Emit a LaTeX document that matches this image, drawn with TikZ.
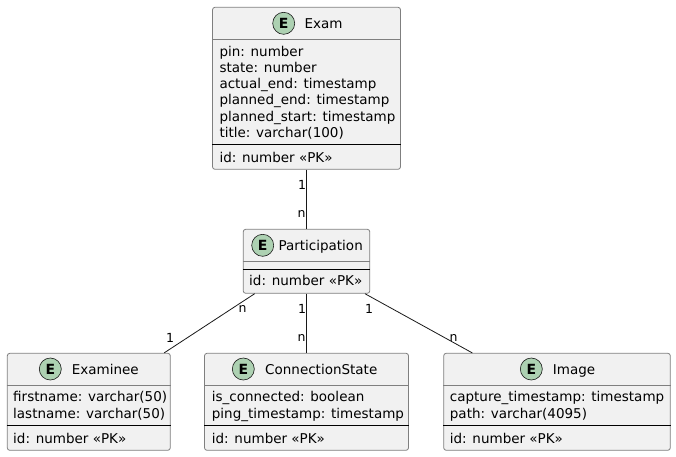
\documentclass[tikz,border=0pt]{standalone}
\usepackage{fontspec}
\setmainfont{DejaVu Sans}
\definecolor{boxfill}{HTML}{F1F1F1}
\definecolor{boxline}{HTML}{7F7F7F}
\definecolor{circfill}{HTML}{ADD1B2}
\definecolor{inkline}{HTML}{181818}
\tikzset{
  entity/.style={draw=boxline,fill=boxfill,line width=.8pt,rounded corners=2.5pt,inner sep=0pt},
  headsep/.style={draw=boxline,line width=.8pt},
  bodysep/.style={draw=black,line width=.8pt},
  title/.style={anchor=base west,inner sep=0pt,font=\fontsize{13.5}{16}\selectfont},
  attr/.style={anchor=base west,inner sep=0pt,font=\fontsize{13.5}{16}\selectfont},
  mult/.style={inner sep=0pt,font=\fontsize{12.5}{14}\selectfont},
  badge/.style={circle,draw=inkline,fill=circfill,line width=.6pt,minimum size=22pt,inner sep=0pt,font=\fontsize{14}{16}\selectfont\bfseries},
  link/.style={draw=inkline,line width=.8pt}
}
\begin{document}
\begin{tikzpicture}[x=1pt,y=-1pt]
\useasboundingbox (0,0) rectangle (676,456);
% entity boxes
\node[entity,minimum width=188pt,minimum height=162pt] (exam) at (306.5,88.3){};
\node[entity,minimum width=126.6pt,minimum height=64pt] (participation) at (306.5,261.3){};
\node[entity,minimum width=163pt,minimum height=97pt] (examinee) at (88.8,401.8){};
\node[entity,minimum width=204pt,minimum height=97pt] (connection) at (306.5,401.8){};
\node[entity,minimum width=226.6pt,minimum height=97pt] (image) at (557,401.8){};
% compartment lines
\draw[headsep] (exam.west |- 0,39.3) -- (exam.east |- 0,39.3);
\draw[bodysep] (exam.west |- 0,144.3) -- (exam.east |- 0,144.3);
\draw[headsep] (participation.west |- 0,261.3) -- (participation.east |- 0,261.3);
\draw[bodysep] (participation.west |- 0,269.3) -- (participation.east |- 0,269.3);
\draw[headsep] (examinee.west |- 0,385.7) -- (examinee.east |- 0,385.7);
\draw[bodysep] (examinee.west |- 0,425.3) -- (examinee.east |- 0,425.3);
\draw[headsep] (connection.west |- 0,385.7) -- (connection.east |- 0,385.7);
\draw[bodysep] (connection.west |- 0,425.3) -- (connection.east |- 0,425.3);
\draw[headsep] (image.west |- 0,385.7) -- (image.east |- 0,385.7);
\draw[bodysep] (image.west |- 0,425.3) -- (image.east |- 0,425.3);
% headers
\node[badge] (examE) at (283.7,23.3){E};
\node[title] (examT) at (304.3,28){Exam};
\node[badge] (participationE) at (262.7,245.3){E};
\node[title] (participationT) at (278.3,250){Participation};
\node[badge] (examineeE) at (50.3,369){E};
\node[title] (examineeT) at (71.7,374){Examinee};
\node[badge] (connectionE) at (243.3,369){E};
\node[title] (connectionT) at (265,374){ConnectionState};
\node[badge] (imageE) at (531.3,369){E};
\node[title] (imageT) at (552.7,374){Image};
% attributes
\foreach \txt [count=\i] in {pin: number,state: number,actual\_end: timestamp,planned\_end: timestamp,planned\_start: timestamp,title: varchar(100)}
  \node[attr] (examA\i) at (219.3,56+16.25*\i-16.25){\txt};
\node[attr] (examId) at (219.3,162){id: number «PK»};
\node[attr] (participationId) at (249,285.7){id: number «PK»};
\node[attr] (examineeA1) at (13,401.7){firstname: varchar(50)};
\node[attr] (examineeA2) at (13,418.7){lastname: varchar(50)};
\node[attr] (examineeId) at (13,443){id: number «PK»};
\node[attr] (connectionA1) at (211.7,401.7){is\_connected: boolean};
\node[attr] (connectionA2) at (211.7,418.7){ping\_timestamp: timestamp};
\node[attr] (connectionId) at (211.7,443){id: number «PK»};
\node[attr] (imageA1) at (449.7,401.7){capture\_timestamp: timestamp};
\node[attr] (imageA2) at (449.7,418.7){path: varchar(4095)};
\node[attr] (imageId) at (449.7,443){id: number «PK»};
% relations
\draw[link] (exam.south) -- (participation.north);
\draw[link] (participation.212.5) -- (examinee.33.06);
\draw[link] (participation.south) -- (connection.north);
\draw[link] (participation.-29.6) -- (image.150.66);
\node[mult] (m1) at (302,184.7){1};
\node[mult] (m2) at (301.7,214){n};
\node[mult] (m3) at (242.7,309.3){n};
\node[mult] (m4) at (170,337.7){1};
\node[mult] (m5) at (302,309.3){1};
\node[mult] (m6) at (301.7,337.7){n};
\node[mult] (m7) at (369,309.3){1};
\node[mult] (m8) at (453.7,337.7){n};
\end{tikzpicture}
\end{document}
